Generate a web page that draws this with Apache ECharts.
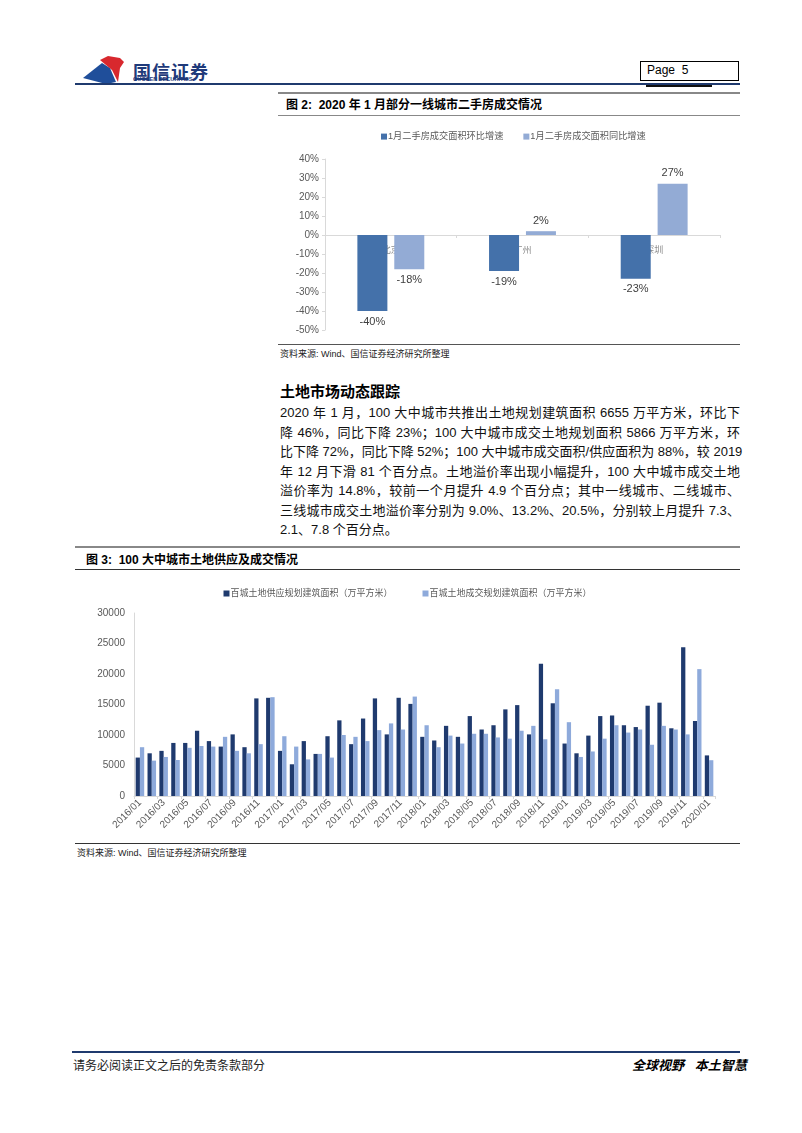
<!DOCTYPE html>
<html>
<head>
<meta charset="utf-8">
<script src="https://cdn.jsdelivr.net/npm/echarts@6/dist/echarts.min.js"></script>
<style>
  body { margin: 0; background: #fff; }
  #page { position: relative; width: 802px; height: 1133px; font-family: "Liberation Sans", "Noto Sans CJK SC", sans-serif; color: #000; }
  .abs { position: absolute; white-space: nowrap; }
  .rule { position: absolute; height: 0; }
  .title { font-weight: bold; font-size: 12px; }
  .src { font-size: 9px; color: #222; }
  .para { position: absolute; left: 280px; width: 460px; font-size: 13px; line-height: 19px; text-align: justify; text-align-last: justify; white-space: nowrap; color: #111; }
</style>
</head>
<body>
<div id="page">
  <!-- header -->
  <svg class="abs" style="left:80px;top:54px" width="60" height="32">
    <path d="M3 24 L22 9 L30 14 L36 28 L26 30 Z" fill="#1f4e9a"/>
    <path d="M20 6 L28 2 L40 4 L44 8 L40 14 L38 28 L32 16 Z" fill="#d8282e"/>
  </svg>
  <div class="abs" style="left:133px;top:58px;font-size:18px;font-weight:bold;color:#1f3a7a;letter-spacing:1px">国信证券</div>
  <div class="abs" style="left:133px;top:76px;font-size:8px;font-weight:bold;color:#1f3a7a;transform:scale(0.7);transform-origin:0 0">GUOSEN SECURITIES</div>
  <div class="abs" style="left:640px;top:61px;width:97px;height:18px;border:1px solid #000"></div>
  <div class="abs" style="left:647px;top:63px;font-size:12px">Page&nbsp;&nbsp;5</div>
  <div class="rule" style="left:75px;top:83px;width:665px;border-top:2px solid #1f3a6e"></div>
  <div class="rule" style="left:646px;top:85px;width:66px;border-top:2px solid #111"></div>

  <!-- figure 2 -->
  <div class="rule" style="left:278px;top:92px;width:462px;border-top:2px solid #888"></div>
  <div class="abs title" style="left:286px;top:95px">图 2:&nbsp; 2020 年 1 月部分一线城市二手房成交情况</div>
  <div class="rule" style="left:278px;top:115px;width:462px;border-top:1px solid #888"></div>
  <div id="chart1" class="abs" style="left:278px;top:118px;width:462px;height:225px"></div>
  <div class="rule" style="left:278px;top:344px;width:462px;border-top:1px solid #555"></div>
  <div class="abs src" style="left:280px;top:347px">资料来源: Wind、国信证券经济研究所整理</div>

  <!-- text -->
  <div class="abs" style="left:280px;top:380px;font-size:15px;font-weight:bold">土地市场动态跟踪</div>
  <div class="para" style="top:403px">2020 年 1 月，100 大中城市共推出土地规划建筑面积 6655 万平方米，环比下</div>
  <div class="para" style="top:422.5px">降 46%，同比下降 23%；100 大中城市成交土地规划面积 5866 万平方米，环</div>
  <div class="para" style="top:442px">比下降 72%，同比下降 52%；100 大中城市成交面积/供应面积为 88%，较 2019</div>
  <div class="para" style="top:461.5px">年 12 月下滑 81 个百分点。土地溢价率出现小幅提升，100 大中城市成交土地</div>
  <div class="para" style="top:481px">溢价率为 14.8%，较前一个月提升 4.9 个百分点；其中一线城市、二线城市、</div>
  <div class="para" style="top:500.5px">三线城市成交土地溢价率分别为 9.0%、13.2%、20.5%，分别较上月提升 7.3、</div>
  <div class="abs" style="left:280px;top:520px;font-size:13px;line-height:19px;color:#111">2.1、7.8 个百分点。</div>

  <!-- figure 3 -->
  <div class="rule" style="left:75px;top:546px;width:665px;border-top:2px solid #888"></div>
  <div class="abs title" style="left:86px;top:550px">图 3:&nbsp; 100 大中城市土地供应及成交情况</div>
  <div class="rule" style="left:75px;top:569px;width:665px;border-top:1px solid #333"></div>
  <div id="chart3" class="abs" style="left:75px;top:575px;width:665px;height:265px"></div>
  <div class="rule" style="left:75px;top:843px;width:665px;border-top:1px solid #333"></div>
  <div class="abs src" style="left:77px;top:846px">资料来源: Wind、国信证券经济研究所整理</div>

  <!-- footer -->
  <div class="rule" style="left:72px;top:1051px;width:668px;border-top:2px solid #1f3a6e"></div>
  <div class="abs" style="left:73px;top:1056px;font-size:12px;color:#222">请务必阅读正文之后的免责条款部分</div>
  <div class="abs" style="left:632px;top:1055px;font-size:13px;font-weight:bold;font-style:italic">全球视野&nbsp;&nbsp;&nbsp;本土智慧</div>
</div>

<script>
// 图2 数据
const cities = ['北京', '广州', '深圳'];
const momGrowth = [-40, -19, -23];
const yoyGrowth = [-18, 2, 27];

// 图3 数据
const months = [
  '2016/01','2016/02','2016/03','2016/04','2016/05','2016/06','2016/07','2016/08','2016/09','2016/10','2016/11','2016/12',
  '2017/01','2017/02','2017/03','2017/04','2017/05','2017/06','2017/07','2017/08','2017/09','2017/10','2017/11','2017/12',
  '2018/01','2018/02','2018/03','2018/04','2018/05','2018/06','2018/07','2018/08','2018/09','2018/10','2018/11','2018/12',
  '2019/01','2019/02','2019/03','2019/04','2019/05','2019/06','2019/07','2019/08','2019/09','2019/10','2019/11','2019/12',
  '2020/01'
];
const supply = [
  6300, 7000, 7400, 8700, 8700, 10700, 9000, 8100, 10100, 8000, 16000, 16100,
  7400, 5200, 9000, 6900, 9800, 12400, 8500, 12700, 16000, 10100, 16100, 15100,
  9700, 9100, 11500, 9700, 13100, 10900, 11600, 14200, 14900, 10100, 21700, 15200,
  8600, 7000, 9900, 13100, 13200, 11600, 11300, 14800, 15300, 11100, 24400, 12300,
  6655
];
const deal = [
  8000, 5800, 6400, 5900, 7900, 8200, 8100, 9700, 7400, 7000, 8500, 16200,
  9800, 8100, 6000, 6900, 6300, 10000, 9700, 9000, 10800, 11900, 10900, 16300,
  11600, 8000, 9900, 8600, 10200, 10200, 9600, 9400, 10700, 11500, 9300, 17500,
  12100, 6400, 7300, 9400, 11600, 10400, 10900, 8400, 11500, 10900, 10100, 20800,
  5866
];

const font = '"Liberation Sans", "Noto Sans CJK SC", sans-serif';

function withLabelPos(arr) {
  return arr.map((v) => ({ value: v, label: { position: v < 0 ? 'bottom' : 'top' } }));
}

const c1 = echarts.init(document.getElementById('chart1'));
c1.setOption({
  animation: false,
  textStyle: { fontFamily: font },
  color: ['#4471aa', '#93abd5'],
  legend: {
    top: 9,
    left: 98,
    itemWidth: 6,
    itemHeight: 6,
    itemGap: 20,
    icon: 'rect',
    textStyle: { fontSize: 9.2, color: '#595959', padding: [0, 0, 0, -4] },
  },
  grid: { left: 47, right: 20, top: 41, bottom: 13, outerBoundsMode: 'none' },
  xAxis: {
    type: 'category',
    data: cities,
    // 轴放在 0% 处（grid 底部上移 95px）
    offset: -95,
    axisLine: { onZero: false, lineStyle: { color: '#d9d9d9' } },
    axisTick: { show: true, length: 3, lineStyle: { color: '#d9d9d9' } },
    axisLabel: { color: '#8c8c8c', fontSize: 9, margin: 11 },
  },
  yAxis: {
    type: 'value',
    min: -50,
    max: 40,
    interval: 10,
    axisLine: { show: true, lineStyle: { color: '#d9d9d9' } },
    axisTick: { show: true, length: 3, lineStyle: { color: '#d9d9d9' } },
    splitLine: { show: false },
    axisLabel: { formatter: '{value}%', color: '#595959', fontSize: 10, margin: 6 },
  },
  series: [
    {
      name: '1月二手房成交面积环比增速',
      type: 'bar',
      data: withLabelPos(momGrowth),
      barWidth: 30,
      barGap: '23%',
      z: 3,
      label: { show: true, formatter: '{c}%', fontSize: 11, color: '#404040', distance: 5 },
    },
    {
      name: '1月二手房成交面积同比增速',
      type: 'bar',
      data: withLabelPos(yoyGrowth),
      barWidth: 30,
      z: 3,
      label: { show: true, formatter: '{c}%', fontSize: 11, color: '#404040', distance: 5 },
    },
  ],
});

const c3 = echarts.init(document.getElementById('chart3'));
c3.setOption({
  animation: false,
  textStyle: { fontFamily: font },
  color: ['#1f3a6e', '#8eaadb'],
  legend: {
    top: 9,
    left: 'center',
    itemWidth: 6,
    itemHeight: 6,
    itemGap: 30,
    icon: 'rect',
    textStyle: { fontSize: 9, color: '#595959', padding: [0, 0, 0, -4] },
  },
  grid: { left: 59, right: 25, top: 38, bottom: 44, outerBoundsMode: 'none' },
  xAxis: {
    type: 'category',
    data: months,
    axisLine: { lineStyle: { color: '#d9d9d9' } },
    axisTick: { show: true, interval: 1, length: 3, lineStyle: { color: '#d9d9d9' } },
    axisLabel: { interval: 1, rotate: 45, color: '#595959', fontSize: 10, margin: 5 },
  },
  yAxis: {
    type: 'value',
    min: 0,
    max: 30000,
    interval: 5000,
    axisLine: { show: true, lineStyle: { color: '#d9d9d9' } },
    splitLine: { show: false },
    axisLabel: { formatter: (v) => String(v), color: '#595959', fontSize: 10, margin: 9 },
  },
  series: [
    {
      name: '百城土地供应规划建筑面积（万平方米）',
      type: 'bar',
      data: supply,
      barGap: '0%',
      barCategoryGap: '28%',
    },
    {
      name: '百城土地成交规划建筑面积（万平方米）',
      type: 'bar',
      data: deal,
      barGap: '0%',
      barCategoryGap: '28%',
    },
  ],
});
</script>
</body>
</html>
